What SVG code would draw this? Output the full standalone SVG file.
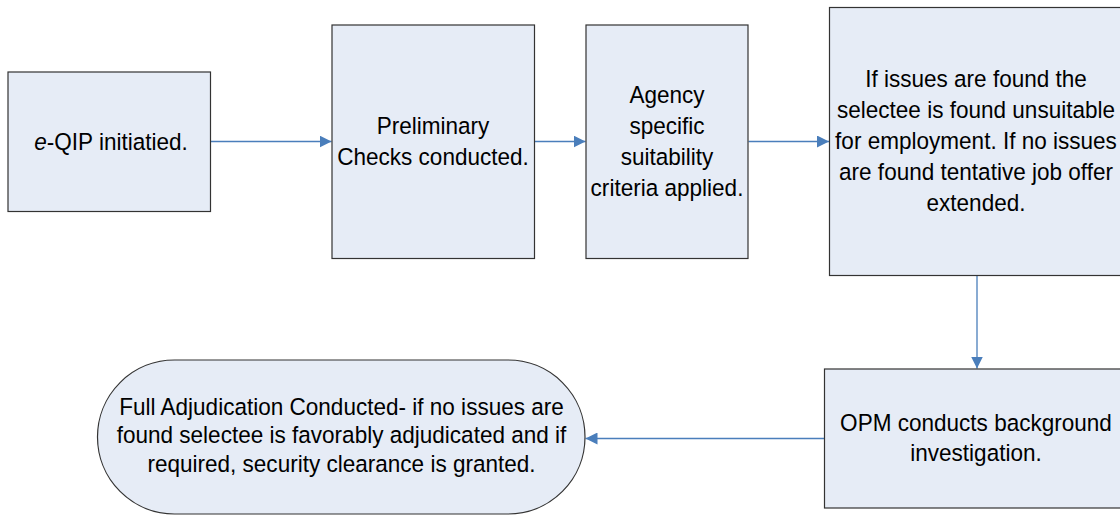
<svg xmlns="http://www.w3.org/2000/svg" width="1120" height="516" viewBox="0 0 1120 516">
<style>
.box{fill:#E6ECF6;stroke:#333;stroke-width:1.2}
.t{font-family:"Liberation Sans",Arial,sans-serif;font-size:24.5px;fill:#000;text-anchor:middle}
.c{stroke:#4A7EBB;stroke-width:1.3;fill:none;marker-end:url(#ah)}
</style>
<defs>
<marker id="ah" viewBox="0 0 12 12" refX="12" refY="6" markerWidth="12" markerHeight="12" markerUnits="userSpaceOnUse" orient="auto">
<path d="M0,0 L12,6 L0,12 Z" fill="#4A7EBB"/>
</marker>
</defs>
<rect width="1120" height="516" fill="#fff"/>
<g id="connectors">
<line class="c" x1="211" y1="141.5" x2="331.5" y2="141.5"/>
<line class="c" x1="534.5" y1="141.5" x2="585.5" y2="141.5"/>
<line class="c" x1="748.5" y1="141.5" x2="829" y2="141.5"/>
<line class="c" x1="977" y1="275.5" x2="977" y2="368.5"/>
<line class="c" x1="824" y1="438.5" x2="585.5" y2="438.5"/>
</g>
<g id="n1">
<rect class="box" x="8" y="72" width="202.5" height="139.5"/>
<g transform="translate(111,0) scale(0.92,1)">
<text class="t" x="0" y="150"><tspan font-style="italic">e</tspan>-QIP initiatied.</text>
</g>
</g>
<g id="n2">
<rect class="box" x="332" y="25" width="202.5" height="233.5"/>
<g transform="translate(433,0) scale(0.92,1)">
<text class="t" x="0" y="134">Preliminary</text>
<text class="t" x="0" y="165">Checks conducted.</text>
</g>
</g>
<g id="n3">
<rect class="box" x="586" y="25" width="162" height="233.5"/>
<g transform="translate(667,0) scale(0.92,1)">
<text class="t" x="0" y="103">Agency</text>
<text class="t" x="0" y="134">specific</text>
<text class="t" x="0" y="165">suitability</text>
<text class="t" x="0" y="196">criteria applied.</text>
</g>
</g>
<g id="n4">
<rect class="box" x="829.5" y="7.5" width="300" height="268"/>
<g transform="translate(976,0) scale(0.92,1)">
<text class="t" x="0" y="87">If issues are found the</text>
<text class="t" x="0" y="118">selectee is found unsuitable</text>
<text class="t" x="0" y="149">for employment. If no issues</text>
<text class="t" x="0" y="180">are found tentative job offer</text>
<text class="t" x="0" y="211">extended.</text>
</g>
</g>
<g id="n5">
<rect class="box" x="824.5" y="369" width="310" height="139"/>
<g transform="translate(976,0) scale(0.92,1)">
<text class="t" x="0" y="431">OPM conducts background</text>
<text class="t" x="0" y="461">investigation.</text>
</g>
</g>
<g id="n6">
<rect class="box" x="97.5" y="360" width="487.5" height="154" rx="77" ry="77"/>
<g transform="translate(341.5,0) scale(0.92,1)">
<text class="t" x="0" y="415">Full Adjudication Conducted- if no issues are</text>
<text class="t" x="0" y="443.5">found selectee is favorably adjudicated and if</text>
<text class="t" x="0" y="472">required, security clearance is granted.</text>
</g>
</g>
</svg>
